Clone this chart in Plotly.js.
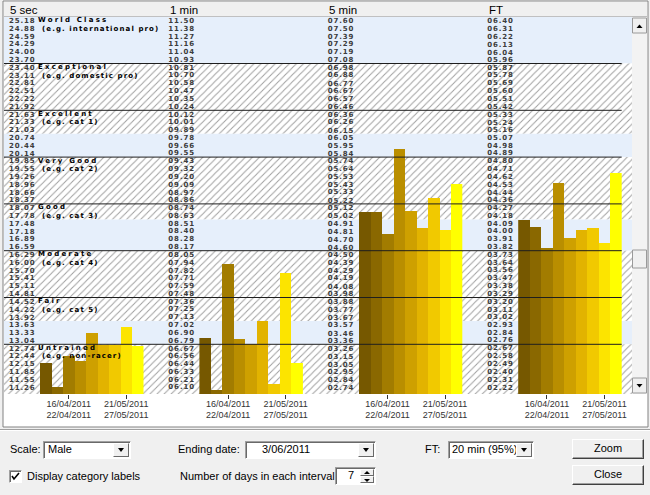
<!DOCTYPE html>
<html><head><meta charset="utf-8">
<script src="https://cdn.plot.ly/plotly-3.0.1.min.js"></script>
<style>
html,body{margin:0;padding:0;background:#f0f0f0;}
#wrap{position:relative;width:650px;height:495px;overflow:hidden;font-family:"Liberation Sans",Arial,sans-serif;font-size:11px;color:#000;}
#chart{position:absolute;left:0;top:0;width:650px;height:495px;}
.lbl{position:absolute;white-space:nowrap;line-height:13px;}
.box{position:absolute;background:#fff;box-sizing:border-box;border:1px solid;border-color:#a0a0a0 #fff #fff #a0a0a0;box-shadow:inset 1px 1px 0 #696969;}
.box .txt{position:absolute;top:2px;white-space:nowrap;line-height:13px;}
.arrbtn{position:absolute;background:#f0f0f0;box-sizing:border-box;border:1px solid;border-color:#fff #696969 #696969 #fff;}
.tri{position:absolute;width:0;height:0;border-left:3px solid transparent;border-right:3px solid transparent;}
.btn{position:absolute;background:#f0f0f0;box-sizing:border-box;border:1px solid;border-color:#fff #404040 #404040 #fff;box-shadow:inset -1px -1px 0 #a0a0a0;text-align:center;line-height:17px;}
</style>
</head><body>
<div id="wrap">
<div id="chart"></div>

<div class="lbl" style="left:10px;top:443px;">Scale:</div>
<div class="box" style="left:43px;top:441px;width:88px;height:18px;">
  <div class="txt" style="left:4px;top:1px;">Male</div>
  <div class="arrbtn" style="right:1px;top:1px;width:16px;height:14px;"><div class="tri" style="left:4px;top:4px;border-top:4px solid #000;"></div></div>
</div>

<div class="lbl" style="left:178px;top:443px;">Ending date:</div>
<div class="box" style="left:245px;top:441px;width:131px;height:18px;">
  <div class="txt" style="left:16px;top:1px;">3/06/2011</div>
  <div class="arrbtn" style="right:1px;top:1px;width:16px;height:14px;"><div class="tri" style="left:4px;top:4px;border-top:4px solid #000;"></div></div>
</div>

<div class="lbl" style="left:425px;top:443px;">FT:</div>
<div class="box" style="left:448px;top:441px;width:86px;height:18px;">
  <div class="txt" style="left:3px;top:1px;">20 min (95%)</div>
  <div class="arrbtn" style="right:1px;top:1px;width:16px;height:14px;"><div class="tri" style="left:4px;top:4px;border-top:4px solid #000;"></div></div>
</div>

<div class="btn" style="left:572px;top:439px;width:72px;height:20px;">Zoom</div>
<div class="btn" style="left:572px;top:465px;width:72px;height:20px;">Close</div>

<div class="box" style="left:9px;top:470px;width:13px;height:13px;">
  <svg width="11" height="11" style="position:absolute;left:0;top:0"><polyline points="2,5 4,8 9,2" fill="none" stroke="#000" stroke-width="1.6"/></svg>
</div>
<div class="lbl" style="left:27px;top:470px;">Display category labels</div>

<div class="lbl" style="left:180px;top:470px;">Number of days in each interval:</div>
<div class="box" style="left:335px;top:467px;width:41px;height:18px;">
  <div class="txt" style="left:12px;top:1px;">7</div>
  <div class="arrbtn" style="right:1px;top:1px;width:14px;height:7px;"><div class="tri" style="left:3px;top:1px;border-bottom:3px solid #000;"></div></div>
  <div class="arrbtn" style="right:1px;top:8px;width:14px;height:7px;"><div class="tri" style="left:3px;top:2px;border-top:3px solid #000;"></div></div>
</div>
</div>

<script>
// ---------------- data ----------------
const columnNames = ['5 sec', '1 min', '5 min', 'FT'];

const intervalStart = ['02/04/2011','09/04/2011','16/04/2011','23/04/2011','30/04/2011','07/05/2011','14/05/2011','21/05/2011','28/05/2011'];
const intervalEnd   = ['08/04/2011','15/04/2011','22/04/2011','29/04/2011','06/05/2011','13/05/2011','20/05/2011','27/05/2011','03/06/2011'];
const labelledIntervals = [2, 7];

const sec5Labels = ['25.18','24.88','24.59','24.29','24.00','23.70',
  '23.40','23.11','22.81','22.51','22.22','21.92',
  '21.63','21.33','21.03','20.74','20.44','20.14',
  '19.85','19.55','19.26','18.96','18.66','18.37',
  '18.07','17.78','17.48','17.18','16.89','16.59',
  '16.29','16.00','15.70','15.41','15.11','14.81',
  '14.52','14.22','13.92','13.63','13.33','13.04',
  '12.74','12.44','12.15','11.85','11.55','11.26','10.96'];
const min1Labels = ['11.50','11.38','11.27','11.16','11.04','10.93',
  '10.81','10.70','10.58','10.47','10.35','10.24',
  '10.12','10.01','09.89','09.78','09.66','09.55',
  '09.43','09.32','09.20','09.09','08.97','08.86',
  '08.74','08.63','08.51','08.40','08.28','08.17',
  '08.05','07.94','07.82','07.71','07.59','07.48',
  '07.36','07.25','07.13','07.02','06.90','06.79',
  '06.67','06.56','06.44','06.33','06.21','06.10','05.98'];
const min5Labels = ['07.60','07.50','07.39','07.29','07.19','07.08',
  '06.98','06.88','06.77','06.67','06.57','06.46',
  '06.36','06.26','06.15','06.05','05.95','05.84',
  '05.74','05.64','05.53','05.43','05.33','05.22',
  '05.12','05.02','04.91','04.81','04.70','04.60',
  '04.50','04.39','04.29','04.19','04.08','03.98',
  '03.88','03.77','03.67','03.57','03.46','03.36',
  '03.26','03.15','03.05','02.95','02.84','02.74','02.64'];
const ftLabels = ['06.40','06.31','06.22','06.13','06.04','05.96',
  '05.87','05.78','05.69','05.60','05.51','05.42',
  '05.33','05.24','05.16','05.07','04.98','04.89',
  '04.80','04.71','04.62','04.53','04.44','04.36',
  '04.27','04.18','04.09','04.00','03.91','03.82',
  '03.73','03.64','03.56','03.47','03.38','03.29',
  '03.20','03.11','03.02','02.93','02.84','02.76',
  '02.67','02.58','02.49','02.40','02.31','02.22','02.13'];

const sec5Values = [12.19, 11.29, 12.46, 12.25, 13.32, 12.88, 12.88, 13.54, 12.82];
const min1Values = [6.83, 6.06, 7.92, 6.81, 6.73, 7.08, 6.15, 7.79, 6.45];
const min5Values = [5.07, 5.07, 4.78, 5.90, 5.08, 4.86, 5.25, 4.83, 5.44];
const ftValues   = [4.13, 4.05, 3.81, 4.55, 3.92, 4.02, 4.04, 3.87, 4.66];

const levelNames = ['World Class','Exceptional','Excellent','Very Good','Good','Moderate','Fair','Untrained'];
const levelNotes = ['(e.g. international pro)','(e.g. domestic pro)','(e.g. cat 1)','(e.g. cat 2)','(e.g. cat 3)','(e.g. cat 4)','(e.g. cat 5)','(e.g. non-racer)'];

// ---------------- style / geometry ----------------
const barColors = ['#765800','#8a6800','#a27c00','#b98e00','#cea000','#e2b300','#f1c900','#fce400','#ffff00'];
const W = 650, H = 495;
const plotTop = 16.7, plotBot = 393.9, rowH = 7.8, plotL = 4, plotR = 632;
const rowsVis = (plotBot - plotTop) / rowH;
const rowsPerLevel = 6;
const px = x => x / W, py = y => 1 - y / H;
const yDom = [py(plotBot), py(plotTop)];
const colLeft = c => 8 + 159.7 * c;
const barStart = c => 40 + 159.4 * c;
const barsW = 103.5;
// background shading spans (row units): [from, to, hatched?]
const shade = [[0,6,false],[6,15,true],[15,18,false],[18,26,true],[26,30,false],[30,39,true],[39,42,false],[42,rowsVis,true]];

const categories = intervalStart.map((s, i) => s + ' - ' + intervalEnd[i]);
const columns = [
  {labels: sec5Labels, values: sec5Values},
  {labels: min1Labels, values: min1Values},
  {labels: min5Labels, values: min5Values},
  {labels: ftLabels, values: ftValues}
];

const traces = [];
shade.forEach(([r0, r1, hatched]) => {
  const t = {
    type: 'scatter', mode: 'lines', xaxis: 'x', yaxis: 'y',
    x: [plotL, plotR, plotR, plotL, plotL], y: [r0, r0, r1, r1, r0],
    fill: 'toself', line: {width: 0}, hoverinfo: 'skip', showlegend: false
  };
  if (hatched) {
    t.fillcolor = '#ffffff';
    t.fillpattern = {shape: '/', bgcolor: '#ffffff', fgcolor: '#a0a0a0', size: 5, solidity: 0.2};
  } else {
    t.fillcolor = '#e6effb';
  }
  traces.push(t);
});

const layout = {
  width: W, height: H, autosize: false,
  margin: {l: 0, r: 0, t: 0, b: 0, pad: 0},
  paper_bgcolor: '#f0f0f0', plot_bgcolor: 'rgba(0,0,0,0)',
  showlegend: false, bargap: 0, bargroupgap: 0,
  xaxis: {domain: [px(plotL), px(plotR)], range: [plotL, plotR], visible: false, fixedrange: true},
  yaxis: {domain: yDom, range: [rowsVis, 0], visible: false, fixedrange: true},
  shapes: [], annotations: []
};

columns.forEach((col, c) => {
  const n = c + 2;
  const vals = col.labels.map(Number);
  const top = vals[0];
  const step = (vals[0] - vals[vals.length - 1]) / (vals.length - 1);
  traces.push({
    type: 'bar', x: categories, y: col.values, xaxis: 'x' + n, yaxis: 'y' + n,
    marker: {color: barColors, line: {width: 0}}, showlegend: false,
    hovertemplate: columnNames[c] + ': %{y:.2f}<extra></extra>'
  });
  layout['xaxis' + n] = {
    domain: [px(barStart(c)), px(barStart(c) + barsW)], anchor: 'y' + n, type: 'category',
    range: [-0.5, categories.length - 0.5], showgrid: false, zeroline: false, showline: false,
    tickmode: 'array', tickvals: labelledIntervals.map(i => categories[i]),
    ticktext: labelledIntervals.map(i => intervalStart[i] + '<br>' + intervalEnd[i]),
    ticks: 'outside', ticklen: 4, tickcolor: '#333', tickwidth: 1, ticklabelstandoff: -3,
    tickfont: {family: 'Liberation Sans, Arial, sans-serif', size: 9, color: '#333'},
    fixedrange: true
  };
  layout['yaxis' + n] = {
    domain: yDom, anchor: 'x' + n,
    range: [top - step * (rowsVis - 0.5), top + 0.5 * step],
    tickmode: 'array', tickvals: vals,
    ticktext: col.labels.map(s => '<span style="letter-spacing:0.9px">' + s + '</span>'),
    showgrid: false, zeroline: false, showline: false,
    ticks: 'outside', ticklen: 2, tickcolor: 'rgba(0,0,0,0)',
    tickfont: {family: 'DejaVu Sans, sans-serif', size: 7, color: '#3c3c3c', weight: 'bold'},
    fixedrange: true
  };
  layout.annotations.push({
    xref: 'paper', yref: 'paper', x: px(colLeft(c)), y: py(10), xanchor: 'left', yanchor: 'middle',
    text: columnNames[c], showarrow: false,
    font: {family: 'Liberation Sans, Arial, sans-serif', size: 11.5, color: '#000'}
  });
});

const rect = (x0, y0, x1, y1, fill, line, layer) => ({
  type: 'rect', xref: 'paper', yref: 'paper', x0: px(x0), x1: px(x1), y0: py(y1), y1: py(y0),
  fillcolor: fill, line: line ? {color: line, width: 1} : {width: 0}, layer: layer || 'below'
});
layout.shapes.push(rect(3, 1, 648, 427, '#ffffff', '#828282'));
layout.shapes.push(rect(4, 2, 647, 17, '#f0f0f0', null));
layout.shapes.push({type: 'line', xref: 'paper', yref: 'paper', x0: px(4), x1: px(647), y0: py(17), y1: py(17), line: {color: '#8a8a8a', width: 1}, layer: 'below'});
layout.shapes.push(rect(632, 17, 647, 394, '#f3f3f3', null));
layout.shapes.push(rect(632.5, 18, 646.5, 33, '#f0f0f0', '#9a9a9a'));
layout.shapes.push(rect(632.5, 378, 646.5, 393, '#f0f0f0', '#9a9a9a'));
layout.shapes.push(rect(632.5, 250, 646.5, 268, '#f0f0f0', '#9a9a9a'));
layout.shapes.push({type: 'path', xref: 'paper', yref: 'paper', layer: 'below', fillcolor: '#000', line: {width: 0},
  path: `M ${px(636.5)} ${py(28)} L ${px(642.5)} ${py(28)} L ${px(639.5)} ${py(24.5)} Z`});
layout.shapes.push({type: 'path', xref: 'paper', yref: 'paper', layer: 'below', fillcolor: '#000', line: {width: 0},
  path: `M ${px(636.5)} ${py(384)} L ${px(642.5)} ${py(384)} L ${px(639.5)} ${py(387.5)} Z`});
layout.shapes.push({type: 'line', xref: 'paper', yref: 'paper', x0: 0, x1: 1, y0: py(429.5), y1: py(429.5), line: {color: '#a0a0a0', width: 1}, layer: 'below'});
layout.shapes.push({type: 'line', xref: 'paper', yref: 'paper', x0: 0, x1: 1, y0: py(430.5), y1: py(430.5), line: {color: '#ffffff', width: 1}, layer: 'below'});

for (let k = 1; k < levelNames.length; k++) {
  layout.shapes.push({type: 'line', xref: 'x', yref: 'y', x0: plotL, x1: barStart(3) + barsW,
    y0: k * rowsPerLevel, y1: k * rowsPerLevel, line: {color: '#1e1e1e', width: 1}, layer: 'above'});
}

levelNames.forEach((name, k) => {
  layout.annotations.push({xref: 'x', yref: 'y', x: 37, y: k * rowsPerLevel + 0.45, xanchor: 'left', yanchor: 'middle',
    text: '<span style="letter-spacing:2.2px">' + name + '</span>', showarrow: false, borderpad: 0,
    font: {family: 'DejaVu Sans, sans-serif', size: 7, color: '#000', weight: 'bold'}});
  layout.annotations.push({xref: 'x', yref: 'y', x: 41, y: k * rowsPerLevel + 1.55, xanchor: 'left', yanchor: 'middle',
    text: '<span style="letter-spacing:1.1px">' + levelNotes[k] + '</span>', showarrow: false, borderpad: 0,
    font: {family: 'DejaVu Sans, sans-serif', size: 7, color: '#000', weight: 'bold'}});
});

Plotly.newPlot('chart', traces, layout, {displayModeBar: false});
</script>
</body></html>
